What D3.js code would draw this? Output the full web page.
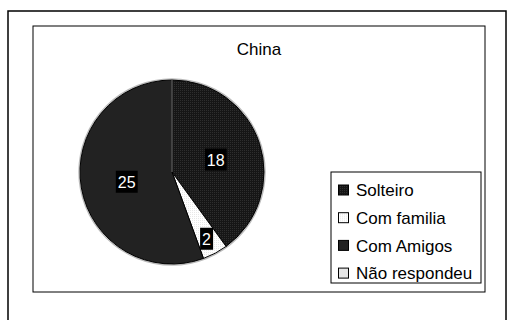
<!DOCTYPE html>
<html>
<head>
<meta charset="utf-8">
<script src="https://cdn.jsdelivr.net/npm/d3@7"></script>
<style>
  html, body { margin: 0; padding: 0; background: #fff; }
  svg { display: block; font-family: "Liberation Sans", Arial, sans-serif; }
</style>
</head>
<body>
<svg id="chart" width="509" height="320"></svg>
<script>
// Living arrangement of respondents — China
const categories = ["Solteiro", "Com familia", "Com Amigos", "Não respondeu"];
const values = [18, 2, 25, 0];
const fills = ["#1c1c1c", "#ffffff", "#222222", "#e6e6e6"];
const title = "China";

const svg = d3.select("#chart");

// dotted texture used by the first two slices
const defs = svg.append("defs");
const p1 = defs.append("pattern").attr("id", "dark").attr("width", 2).attr("height", 2)
  .attr("patternUnits", "userSpaceOnUse");
p1.append("rect").attr("width", 2).attr("height", 2).attr("fill", "#161616");
p1.append("rect").attr("width", 1).attr("height", 1).attr("fill", "#2e2e2e");
const p2 = defs.append("pattern").attr("id", "light").attr("width", 2).attr("height", 2)
  .attr("patternUnits", "userSpaceOnUse");
p2.append("rect").attr("width", 2).attr("height", 2).attr("fill", "#ffffff");
p2.append("rect").attr("width", 1).attr("height", 1).attr("fill", "#e8e8e8");
const sliceFill = ["url(#dark)", "url(#light)", fills[2], fills[3]];

// outer frame
svg.append("rect").attr("x", 8).attr("y", 11).attr("width", 498).attr("height", 320)
  .attr("fill", "none").attr("stroke", "#000").attr("stroke-width", 1.5);
// plot area frame
svg.append("rect").attr("x", 33).attr("y", 26).attr("width", 452).attr("height", 266)
  .attr("fill", "#fff").attr("stroke", "#000").attr("stroke-width", 1);

svg.append("text").attr("x", 259).attr("y", 55).attr("text-anchor", "middle")
  .attr("font-size", 17).attr("fill", "#000").text(title);

const cx = 172, cy = 172, r = 92;
const pie = d3.pie().sort(null).value(d => d)(values);
const arc = d3.arc().innerRadius(0).outerRadius(r);
const g = svg.append("g").attr("transform", `translate(${cx},${cy})`);

// pale rim around the pie
g.append("circle").attr("r", r + 1).attr("fill", "none").attr("stroke", "#bbb").attr("stroke-width", 1.5);

g.selectAll("path.slice").data(pie.filter(d => d.value > 0)).join("path")
  .attr("class", "slice")
  .attr("d", arc)
  .attr("fill", d => sliceFill[d.index])
  .attr("stroke", "#000").attr("stroke-width", 1);

// divider between the two dark slices
g.append("line").attr("x1", 0).attr("y1", 0).attr("x2", 0).attr("y2", -r)
  .attr("stroke", "#777").attr("stroke-width", 1);

// value labels: white text on black boxes
const labelArc = d3.arc().innerRadius(r * 0.5).outerRadius(r * 0.5);
const labelPos = pie.filter(d => d.value > 0).map(d => {
  let [x, y] = labelArc.centroid(d);
  if (d.index === 1) { const a = (d.startAngle + d.endAngle) / 2; x = Math.sin(a) * r * 0.8; y = -Math.cos(a) * r * 0.8; }
  return { d, x, y: y + 2 };
});
const lg = g.selectAll("g.lab").data(labelPos).join("g").attr("class", "lab")
  .attr("transform", p => `translate(${p.x},${p.y})`);
lg.each(function(p) {
  const sel = d3.select(this);
  const t = sel.append("text").attr("text-anchor", "middle").attr("dy", "0.36em")
    .attr("font-size", 16).attr("fill", "#fff").text(p.d.value);
  const bb = t.node().getBBox();
  sel.insert("rect", "text").attr("x", bb.x - 2).attr("y", bb.y - 3)
    .attr("width", bb.width + 4).attr("height", bb.height + 5).attr("fill", "#000");
});

// legend
const lx = 331, ly = 172;
svg.append("rect").attr("x", lx).attr("y", ly).attr("width", 150).attr("height", 111)
  .attr("fill", "#fff").attr("stroke", "#000").attr("stroke-width", 1);
const leg = svg.append("g").selectAll("g").data(categories).join("g")
  .attr("transform", (d, i) => `translate(${lx + 7},${ly + 18 + i * 27.7})`);
leg.append("rect").attr("x", 0.5).attr("y", -5).attr("width", 10).attr("height", 10)
  .attr("fill", (d, i) => sliceFill[i]).attr("stroke", "#000").attr("stroke-width", 1);
leg.append("text").attr("x", 18).attr("dy", "0.36em").attr("font-size", 17).attr("fill", "#000")
  .text(d => d);
</script>
</body>
</html>
